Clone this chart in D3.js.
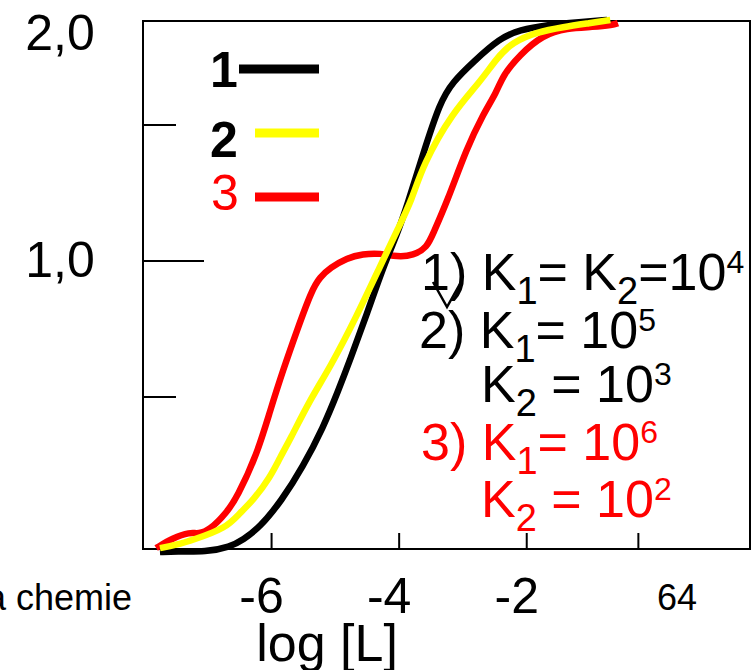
<!DOCTYPE html>
<html>
<head>
<meta charset="utf-8">
<script src="https://cdn.jsdelivr.net/npm/d3@7"></script>
<style>
  body { margin: 0; background: #fff; }
  svg { display: block; }
  text { font-family: "Liberation Sans", Arial, sans-serif; }
</style>
</head>
<body>
<div class="chart"></div>
<script>
var svgWidth = 754;
var svgHeight = 670;

// curves: [log L, value]
var curve1 = [[-7.75,-0.01],[-7.5,-0.007],[-7.03,-0.01],[-6.65,0.007],[-6.45,0.03],[-6.18,0.072],
  [-5.84,0.16],[-5.51,0.27],[-5.19,0.40],[-4.96,0.52],[-4.77,0.636],[-4.5,0.809],[-4.25,0.978],
  [-4.03,1.10],[-3.88,1.20],[-3.63,1.39],[-3.36,1.61],[-3.16,1.707],[-2.84,1.803],[-2.42,1.918],
  [-2.11,1.957],[-1.68,1.981],[-1.17,1.995],[-0.74,2.005]];
var curve2 = [[-7.75,0.003],[-7.5,0.013],[-7.23,0.03],[-6.71,0.069],[-6.5,0.118],[-6.29,0.16],
  [-6.02,0.237],[-5.87,0.30],[-5.71,0.36],[-5.40,0.49],[-5.08,0.61],[-4.66,0.80],[-4.30,0.98],
  [-4.03,1.114],[-3.80,1.224],[-3.63,1.353],[-3.16,1.5625],[-2.73,1.707],[-2.47,1.822],[-2.22,1.899],
  [-1.84,1.947],[-1.43,1.971],[-1.01,1.99],[-0.69,2.005]];
var curve3 = [[-7.81,0.003],[-7.55,0.036],[-7.28,0.056],[-7.15,0.049],[-6.97,0.0625],[-6.71,0.118],
  [-6.54,0.171],[-6.23,0.31],[-6.02,0.457],[-5.82,0.599],[-5.60,0.746],[-5.37,0.893],[-5.24,0.941],
  [-5.08,0.975],[-4.82,1.011],[-4.57,1.026],[-4.30,1.029],[-4.03,1.015],[-3.78,1.02],[-3.56,1.051],
  [-3.47,1.10],[-3.25,1.217],[-2.94,1.415],[-2.69,1.548],[-2.47,1.659],[-2.37,1.74],[-2.11,1.837],
  [-1.75,1.933],[-1.37,1.966],[-0.96,1.971],[-0.65,1.981],[-0.57,1.99]];

var seriesNames = ["1", "2", "3"];
var seriesColors = ["#000000", "#ffff00", "#ff0000"];
var seriesData = [curve1, curve2, curve3];

var xTickValues = [-6, -4, -2, -0.25];
var xTickLabels = [-6, -4, -2];
var yTickValues = [0.5, 1, 1.5];
var yTickLabels = [2, 1];

var xTitle = "log [L]";
var pageNumber = "64";
var footer = "a chemie";

// parts: [text, 0 normal / 1 subscript / 2 superscript]
var notes = [
  { color: "#000000", parts: [["1) K", 0], ["1", 1], ["= K", 0], ["2", 1], ["=10", 0], ["4", 2]] },
  { color: "#000000", parts: [["2) K", 0], ["1", 1], ["= 10", 0], ["5", 2]] },
  { color: "#000000", parts: [["K", 0], ["2", 1], [" = 10", 0], ["3", 2]] },
  { color: "#ff0000", parts: [["3) K", 0], ["1", 1], ["= 10", 0], ["6", 2]] },
  { color: "#ff0000", parts: [["K", 0], ["2", 1], [" = 10", 0], ["2", 2]] }
];

var svg = d3.select(".chart")
  .append("svg")
  .attr("width", svgWidth)
  .attr("height", svgHeight);

var x = d3.scaleLinear().domain([-8, 1.5]).range([144, 750]);
var y = d3.scaleLinear().domain([0, 0.5, 1, 1.5, 2]).range([549, 397, 261, 125, 21]);

var comma = d3.formatLocale({ decimal: ",", thousands: ".", grouping: [3], currency: ["", ""] }).format(".1f");

// frame
svg.append("rect")
  .attr("x", x(-8) - 1)
  .attr("y", y(2))
  .attr("width", x(1.5) - x(-8) + 1)
  .attr("height", y(0) - y(2))
  .attr("fill", "none")
  .attr("stroke", "#000")
  .attr("stroke-width", 2);

// y ticks (inside, the middle one longer)
svg.selectAll(".ytick")
  .data(yTickValues)
  .enter()
  .append("line")
  .attr("x1", x(-8))
  .attr("x2", d => x(-8) + (d === 1 ? 60 : 32))
  .attr("y1", d => y(d))
  .attr("y2", d => y(d))
  .attr("stroke", "#000")
  .attr("stroke-width", 2);

svg.selectAll(".ylab")
  .data(yTickLabels)
  .enter()
  .append("text")
  .attr("x", 60)
  .attr("y", d => y(d))
  .attr("dy", d => d === 2 ? 29 : 16)
  .attr("text-anchor", "middle")
  .attr("font-size", 50)
  .text(d => comma(d));

// x ticks
svg.selectAll(".xtick")
  .data(xTickValues)
  .enter()
  .append("line")
  .attr("x1", d => x(d))
  .attr("x2", d => x(d))
  .attr("y1", y(0))
  .attr("y2", y(0) - 16)
  .attr("stroke", "#000")
  .attr("stroke-width", 2);

svg.selectAll(".xlab")
  .data(xTickLabels)
  .enter()
  .append("text")
  .attr("x", d => x(d) - 10)
  .attr("y", 613)
  .attr("text-anchor", "middle")
  .attr("font-size", 50)
  .text(d => d);

svg.append("text")
  .attr("x", 327)
  .attr("y", 661)
  .attr("text-anchor", "middle")
  .attr("font-size", 52)
  .text(xTitle);

svg.append("text")
  .attr("x", 677)
  .attr("y", 610)
  .attr("text-anchor", "middle")
  .attr("font-size", 36)
  .text(pageNumber);

svg.append("text")
  .attr("x", 132)
  .attr("y", 610)
  .attr("text-anchor", "end")
  .attr("font-size", 36)
  .text(footer);

// curves: red under, black, yellow on top
var line = d3.line()
  .x(d => x(d[0]))
  .y(d => y(d[1]))
  .curve(d3.curveBasis);

[2, 0, 1].forEach(function(i) {
  svg.append("path")
    .datum(seriesData[i])
    .attr("d", line)
    .attr("fill", "none")
    .attr("stroke", seriesColors[i])
    .attr("stroke-width", 6.5)
    .attr("stroke-linejoin", "round");
});

// legend
var legendPos = [
  { tx: 210, ty: 87, x1: 239, y: 69, bold: true },
  { tx: 210, ty: 157, x1: 255, y: 133, bold: true },
  { tx: 211, ty: 210, x1: 255, y: 197, bold: false }
];
seriesNames.forEach(function(name, i) {
  var p = legendPos[i];
  svg.append("text")
    .attr("x", p.tx)
    .attr("y", p.ty)
    .attr("font-size", 50)
    .attr("font-weight", p.bold ? "bold" : "normal")
    .attr("fill", i === 2 ? seriesColors[2] : "#000")
    .text(name);
  svg.append("line")
    .attr("x1", p.x1)
    .attr("x2", 319)
    .attr("y1", p.y)
    .attr("y2", p.y)
    .attr("stroke", seriesColors[i])
    .attr("stroke-width", 9);
});

// annotation text
var notePos = [[421, 290], [419, 348], [481, 402], [421, 460], [481, 517]];
notes.forEach(function(n, i) {
  var t = svg.append("text")
    .attr("x", notePos[i][0])
    .attr("y", notePos[i][1])
    .attr("font-size", 52)
    .attr("fill", n.color);
  var shift = 0;
  n.parts.forEach(function(part) {
    var target = part[1] === 1 ? 14 : part[1] === 2 ? -17 : 0;
    t.append("tspan")
      .attr("dy", target - shift)
      .attr("font-size", part[1] === 1 ? 38 : part[1] === 2 ? 32 : 52)
      .text(part[0]);
    shift = target;
  });
});

// stray stroke under "1)"
svg.append("path")
  .attr("d", "M433,282 L447,307 L461,282")
  .attr("fill", "none")
  .attr("stroke", "#000")
  .attr("stroke-width", 2.5);
</script>
</body>
</html>
